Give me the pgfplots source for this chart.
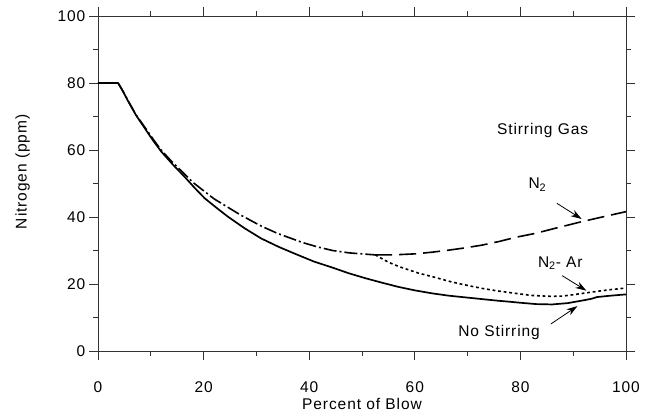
\documentclass[border=0pt]{standalone}
\usepackage{fontspec}
\setmainfont{Liberation Sans}[LetterSpace=6]
\usepackage{pgfplots}
\pgfplotsset{compat=1.18}
\usetikzlibrary{arrows.meta}
\newcommand\ff{\fontsize{15.5bp}{18bp}\selectfont}

\pgfplotstableread{
x y
0 80
3.8 80
4.6 77.9
5.7 74.6
7.2 70.4
8.9 66.4
10.4 62.9
12.0 59.5
14.2 55.6
16.4 52.0
18.3 48.7
20.2 45.6
22.4 42.8
24.6 40.1
27.7 36.7
30.9 33.6
34.2 31.1
37.5 28.9
40.9 26.7
44.4 24.9
47.5 23.2
50.7 21.7
54 20.3
57 19.1
60 18.1
63.3 17.2
66.5 16.5
69.6 16.0
72.7 15.5
75.8 15.0
78 14.7
80 14.4
83 14.0
86 13.9
89 14.3
92.2 15.2
93.5 15.6
94.5 16.1
97 16.5
100 16.9
}\nostirring

\pgfplotstableread{
x y
3.8 80
4.6 77.9
5.7 74.7
7.2 70.5
9 66.5
10.5 63.1
12 59.9
14 56.5
16.4 52.8
18 50.3
20.2 47.6
22 45.4
24.6 42.9
27 40.6
30.9 37.3
34 35.1
38.7 32.4
41.5 31.1
44.4 30.0
47.5 29.3
50.7 28.9
52.5 28.7
}\common

\pgfplotstableread{
x y
52.5 28.7
56 28.7
60.1 29.0
63.3 29.5
66.4 30.1
69.6 30.8
72.7 31.6
76 32.7
79 33.9
82.8 35.1
87 36.8
91.6 38.6
95.5 40.0
100 41.6
}\ntwo

\pgfplotstableread{
x y
52.5 28.7
55 26.5
57 25.2
60.8 23.2
63.3 22.2
67 20.6
69.6 19.7
72.7 18.7
75.8 17.9
79.6 17.1
82 16.6
85.9 16.3
88 16.4
90 16.8
92.2 17.3
95 17.9
97 18.3
100 18.8
}\ntwoar

\begin{document}
\begin{tikzpicture}
\begin{axis}[
  scale only axis, width=528bp, height=335bp,
  xmin=0, xmax=100, ymin=0, ymax=100,
  xtick={0,20,...,100}, ytick={0,20,...,100},
  minor xtick={10,30,...,90}, minor ytick={10,30,...,90},
  tick align=outside,
  major tick length=9bp, minor tick length=5bp,
  axis line style={black!80, line width=0.9bp},
  every tick/.style={black!80, line width=0.9bp},
  every minor tick/.style={black!80, line width=0.9bp},
  tick label style={font=\ff},
  label style={font=\ff},
  /pgf/number format/assume math mode=true,
  every x tick label/.append style={anchor=north, inner sep=0pt, yshift=-21bp},
  every y tick label/.append style={anchor=east, inner sep=0pt, xshift=-3.5bp},
  xlabel={Percent of Blow},
  ylabel={Nitrogen (ppm)},
  xlabel style={at={(axis description cs:0.5,0)}, anchor=base, yshift=-58bp, inner sep=0pt},
  ylabel style={at={(axis description cs:-0.135,0.535)}, anchor=base, inner sep=0pt},
]
\addplot[black, line width=1.7bp, line join=round] table[x=x,y=y] {\nostirring};
\addplot[black, line width=1.6bp, line join=round, dash pattern=on 13bp off 3bp on 2bp off 3bp] table[x=x,y=y] {\common};
\addplot[black, line width=1.6bp, line join=round, dash pattern=on 17bp off 7bp] table[x=x,y=y] {\ntwo};
\addplot[black, line width=1.6bp, line join=round, dash pattern=on 2.8bp off 2.8bp] table[x=x,y=y] {\ntwoar};

\node[anchor=base, inner sep=0pt, font=\ff] at (axis cs:84.2,64.5) {Stirring Gas};
\node[anchor=base west, inner sep=0pt, font=\ff] at (axis cs:81.5,48.4) {N\textsubscript{2}};
\node[anchor=base west, inner sep=0pt, font=\ff] at (axis cs:83.3,25.0) {N\textsubscript{2}- Ar};
\node[anchor=base west, inner sep=0pt, font=\ff] at (axis cs:68.2,4.3) {No Stirring};

\draw[black, line width=0.8bp, -{Stealth[length=11bp,width=7bp]}] (axis cs:86.9,44.1) -- (axis cs:91.6,39.4);
\draw[black, line width=0.8bp, -{Stealth[length=11bp,width=7bp]}] (axis cs:87.9,22.5) -- (axis cs:92.5,18.0);
\draw[black, line width=0.8bp, -{Stealth[length=11bp,width=7bp]}] (axis cs:85.8,8.1) -- (axis cs:90.8,13.4);
\end{axis}
\pgfresetboundingbox
\path[use as bounding box] (-98bp,-62bp) rectangle (548bp,351bp);
\end{tikzpicture}
\end{document}
